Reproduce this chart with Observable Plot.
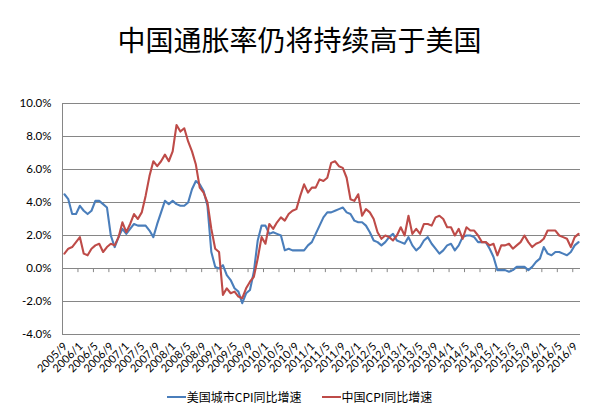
<!DOCTYPE html>
<html><head><meta charset="utf-8">
<script src="https://cdn.jsdelivr.net/npm/d3@7"></script>
<script src="https://cdn.jsdelivr.net/npm/@observablehq/plot@0.6"></script>
<style>
body{margin:0;background:#fff;}
#wrap{position:relative;width:599px;height:413px;overflow:hidden;font-family:"Noto Sans CJK SC",sans-serif;background:#fff;}
#chart{position:absolute;left:0;top:0;}
#title{position:absolute;left:0;top:19px;width:599px;text-align:center;font-size:28px;line-height:40px;color:#000;}
#legend{position:absolute;left:0;top:388px;width:599px;display:flex;justify-content:center;align-items:center;font-size:12px;line-height:18px;color:#000;}
.item{display:flex;align-items:center;}
.item + .item{margin-left:20px;}
.sw{display:inline-block;width:19px;height:2.5px;margin-right:1px;}
</style></head><body>
<div id="wrap"><div id="chart"></div><div id="title">中国通胀率仍将持续高于美国</div><div id="legend"></div></div>
<script>
const seriesNames = ["美国城市CPI同比增速", "中国CPI同比增速"];
const seriesColors = ["#4a7ebb", "#be4b48"];
const tickLabels = ["2005/9","2006/1","2006/5","2006/9","2007/1","2007/5","2007/9","2008/1","2008/5","2008/9","2009/1","2009/5","2009/9","2010/1","2010/5","2010/9","2011/1","2011/5","2011/9","2012/1","2012/5","2012/9","2013/1","2013/5","2013/9","2014/1","2014/5","2014/9","2015/1","2015/5","2015/9","2016/1","2016/5","2016/9"];
const yTicks = [-4, -2, 0, 2, 4, 6, 8, 10];
// monthly, 2005/9 .. 2016/10
const usCPI = [
 4.5, 4.2, 3.3, 3.3,
 3.8, 3.5, 3.3, 3.5, 4.1, 4.1, 3.9, 3.7, 2.0, 1.3, 1.9, 2.4,
 2.1, 2.4, 2.7, 2.6, 2.6, 2.6, 2.3, 1.9, 2.7, 3.4, 4.1, 3.9,
 4.1, 3.9, 3.8, 3.8, 4.0, 4.8, 5.3, 5.1, 4.7, 3.8, 1.0, 0.1,
 0.0, 0.2, -0.4, -0.7, -1.2, -1.4, -2.1, -1.5, -1.3, -0.2, 1.7, 2.6,
 2.6, 2.1, 2.2, 2.1, 2.0, 1.1, 1.2, 1.1, 1.1, 1.1, 1.1, 1.4,
 1.6, 2.1, 2.6, 3.1, 3.4, 3.4, 3.5, 3.6, 3.7, 3.4, 3.3, 2.9,
 2.8, 2.8, 2.6, 2.2, 1.7, 1.6, 1.4, 1.6, 1.9, 2.1, 1.7, 1.6,
 1.5, 1.9, 1.4, 1.1, 1.3, 1.7, 1.9, 1.5, 1.2, 0.9, 1.1, 1.4,
 1.5, 1.1, 1.4, 1.9, 2.0, 2.0, 1.9, 1.6, 1.6, 1.6, 1.2, 0.7,
 -0.1, -0.1, -0.1, -0.2, -0.1, 0.1, 0.1, 0.1, -0.1, 0.1, 0.4, 0.6,
 1.3, 0.9, 0.8, 1.0, 1.0, 0.9, 0.8, 1.0, 1.4, 1.6
];
const cnCPI = [
 0.9, 1.2, 1.3, 1.6,
 1.9, 0.9, 0.8, 1.2, 1.4, 1.5, 1.0, 1.3, 1.5, 1.4, 1.9, 2.8,
 2.2, 2.7, 3.3, 3.0, 3.4, 4.4, 5.6, 6.5, 6.2, 6.5, 6.9, 6.5,
 7.1, 8.7, 8.3, 8.5, 7.7, 7.1, 6.3, 4.9, 4.6, 4.0, 2.4, 1.2,
 1.0, -1.6, -1.2, -1.5, -1.4, -1.7, -1.8, -1.2, -0.8, -0.5, 0.6, 1.9,
 1.5, 2.7, 2.4, 2.8, 3.1, 2.9, 3.3, 3.5, 3.6, 4.4, 5.1, 4.6,
 4.9, 4.9, 5.4, 5.3, 5.5, 6.4, 6.5, 6.2, 6.1, 5.5, 4.2, 4.1,
 4.5, 3.2, 3.6, 3.4, 3.0, 2.2, 1.8, 2.0, 1.9, 1.7, 2.0, 2.5,
 2.0, 3.2, 2.1, 2.4, 2.1, 2.7, 2.7, 2.6, 3.1, 3.2, 3.0, 2.5,
 2.5, 2.0, 2.4, 1.8, 2.5, 2.3, 2.3, 2.0, 1.6, 1.6, 1.4, 1.5,
 0.8, 1.4, 1.4, 1.5, 1.2, 1.4, 1.6, 2.0, 1.6, 1.3, 1.5, 1.6,
 1.8, 2.3, 2.3, 2.3, 2.0, 1.9, 1.8, 1.3, 1.9, 2.1
];

const N = usCPI.length;
const rows = [];
usCPI.forEach((v, i) => rows.push({series: seriesNames[0], i, v}));
cnCPI.forEach((v, i) => rows.push({series: seriesNames[1], i, v}));
const labelIdx = tickLabels.map((t, k) => ({k: k * 4, t}));
const boundaries = d3.range(4, N, 4);

const chart = Plot.plot({
  width: 599, height: 413,
  marginLeft: 62, marginRight: 19, marginTop: 103, marginBottom: 79,
  x: {type: "linear", domain: [0, N], axis: null},
  y: {domain: [-4, 10], axis: null},
  color: {domain: seriesNames, range: seriesColors},
  style: {background: "transparent", overflow: "visible"},
  marks: [
    Plot.ruleY(yTicks, {stroke: "#868686", strokeWidth: 1, strokeOpacity: 1}),
    Plot.ruleX([0], {stroke: "#868686", strokeWidth: 1, strokeOpacity: 1}),
    Plot.ruleX(boundaries, {x: d => d, y1: 0, y2: -0.25, stroke: "#868686", strokeOpacity: 1}),
    Plot.text(yTicks, {x: 0, y: d => d, text: d => d.toFixed(1) + "%", textAnchor: "end", dx: -11, fontSize: 11.5, fontFamily: "Lato", fill: "#000"}),
    Plot.text(labelIdx, {x: d => d.k + 0.5, y: -4, text: "t", rotate: -45, textAnchor: "end", dx: 1, dy: 10, fontSize: 11, fontFamily: "Lato", fill: "#000"}),
    Plot.line(rows, {x: d => d.i + 0.5, y: "v", z: "series", stroke: "series", strokeWidth: 2.1, strokeLinejoin: "round"})
  ]
});
document.getElementById("chart").appendChild(chart);

const legend = document.getElementById("legend");
seriesNames.forEach((name, j) => {
  const item = document.createElement("div");
  item.className = "item";
  const sw = document.createElement("span");
  sw.className = "sw";
  sw.style.background = seriesColors[j];
  const tx = document.createElement("span");
  tx.textContent = name;
  item.appendChild(sw); item.appendChild(tx);
  legend.appendChild(item);
});
</script>
</body></html>
